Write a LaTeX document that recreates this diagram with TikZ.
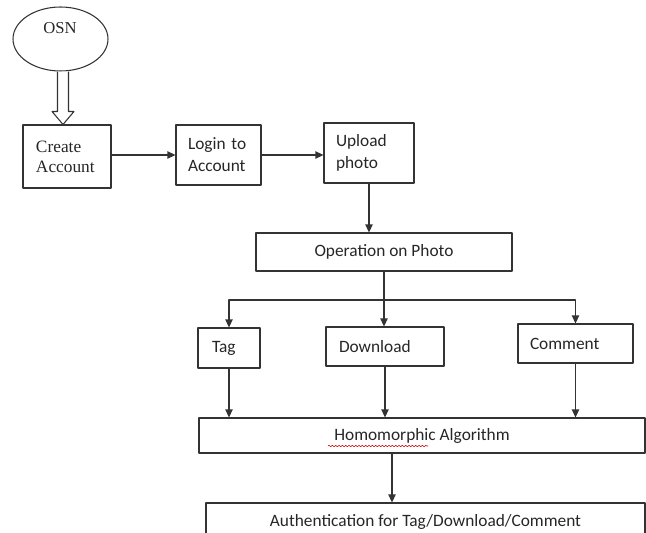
\documentclass[tikz,border=0pt]{standalone}
\usepackage{fontspec}
\setmainfont{Carlito}
\newfontfamily\osnfont{Liberation Serif}
\usetikzlibrary{shapes.geometric, arrows.meta, calc, decorations.pathmorphing}

\begin{document}
\begin{tikzpicture}[x=0.75pt, y=-0.75pt, line join=round,
    box/.style={draw=black!80, line width=0.8pt, inner ysep=0pt, text=black!85,
        font=\fontsize{13}{16.5}\selectfont, align=left},
    wide/.style={box, align=center, minimum width=#1},
    ln/.style={draw=black!80, line width=0.8pt},
    arr/.style={ln, -{Triangle[length=6pt, width=5.5pt]}}]
        \useasboundingbox (0,0) rectangle (646,532);
        \clip (0,0) rectangle (646,532);
        % start
        \node[ellipse, draw=black!80, line width=0.8pt, minimum width=71.25pt,
              minimum height=48pt, inner sep=0pt] (osn) at (60.5,39) {};
        \node[font=\osnfont\fontsize{12.5}{15}\selectfont, text=black!85] (osntext) at (60,28) {OSN};
        % account steps
        \node[box, font=\osnfont\fontsize{13}{15}\selectfont, inner xsep=9.75pt, text width=46.5pt,
              minimum height=47.25pt] (create) at (67,156.5) {Create\\Account};
        \node[box, inner xsep=9pt, text width=45.75pt, minimum height=45pt] (login) at (218.5,155) {Login to\\Account};
        \node[box, inner xsep=9pt, text width=49.5pt, minimum height=45pt] (upload) at (369,153) {Upload\\photo};
        \node[wide=192pt, minimum height=28.5pt] (oper) at (384,252) {Operation on Photo};
        % operations
        \node[box, inner xsep=10.5pt, text width=25.5pt, minimum height=30pt] (tag) at (229,348) {Tag};
        \node[box, inner xsep=9.75pt, text width=69pt, minimum height=29.25pt] (download) at (385,346.5) {Download};
        \node[box, inner xsep=9pt, text width=68.25pt, minimum height=29.25pt] (comment) at (575.5,343.5) {Comment};
        \node[wide=334.5pt, minimum height=26.25pt] (homo) at (422,435.5) {Homomorphic Algorithm};
        \node[wide=329.25pt, minimum height=28.5pt] (auth) at (425.5,522) {Authentication for Tag/Download/Comment};
        \draw[red!80!black, line width=0.4pt, decorate,
              decoration={snake, amplitude=0.6pt, segment length=2.5pt}] (328,446) -- (428,446);
        % hollow arrow
        \coordinate (tip) at ($(create.north)+(-4,0)$);
        \draw[ln, fill=white] ($(tip |- osn.south)+(-5.5,0)$) -- ($(tip)+(-5.5,-13)$) -- ($(tip)+(-11,-13)$)
            -- (tip) -- ($(tip)+(11,-13)$) -- ($(tip)+(5.5,-13)$) -- ($(tip |- osn.south)+(5.5,0)$);
        % connectors
        \draw[arr] (create.east |- login) -- (login.west);
        \draw[arr] (login.east) -- (login.east -| upload.west);
        \draw[arr] (upload.south) -- (upload.south |- oper.north);
        \coordinate (split) at (oper.south |- 0,300);
        \draw[ln] (oper.south) -- (split);
        \draw[arr] (split) -| (tag.north);
        \draw[arr] (split) -| (comment.north);
        \draw[arr] (split) -- (split |- download.north);
        \draw[arr] (tag.south) -- (tag.south |- homo.north);
        \draw[arr] (download.south) -- (download.south |- homo.north);
        \draw[arr] (comment.south) -- (comment.south |- homo.north);
        \draw[arr] ([xshift=-22.5pt]homo.south) -- ([xshift=-22.5pt]homo.south |- auth.north);
\end{tikzpicture}
\end{document}
